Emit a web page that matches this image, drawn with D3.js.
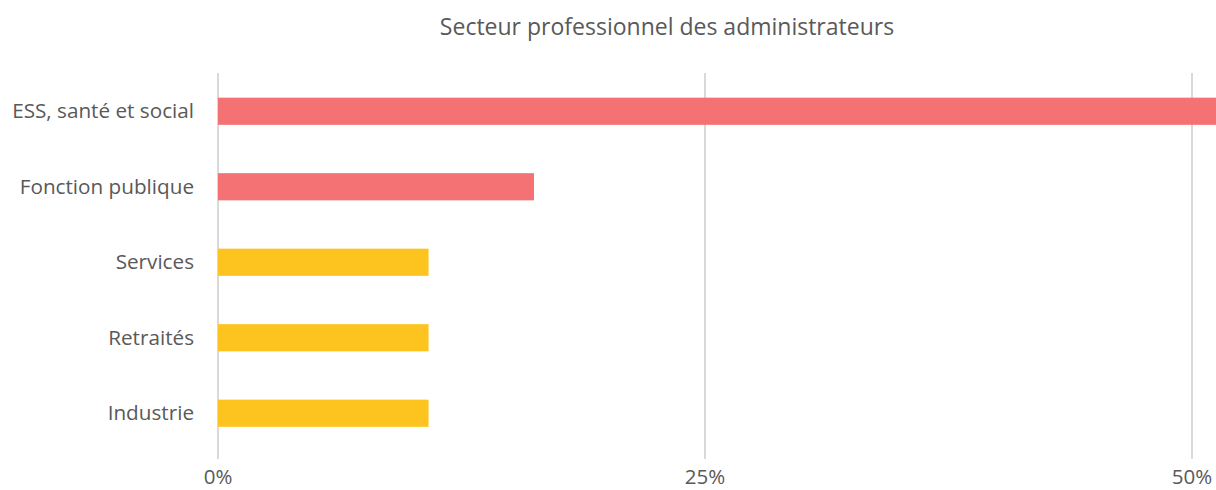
<!DOCTYPE html>
<html><head><meta charset="utf-8">
<script src="https://cdn.jsdelivr.net/npm/d3@7"></script>
<style>body{margin:0;background:#fff}svg{display:block}text{font-family:"Open Sans",sans-serif;fill:#595959}</style>
</head><body><svg id="c" width="1216" height="490"></svg>
<script>
const categories = ["ESS, santé et social","Fonction publique","Services","Retraités","Industrie"];
const values = [51.35,16.22,10.81,10.81,10.81];
const colors = ["#F47174","#F47174","#FDC41F","#FDC41F","#FDC41F"];
const tickValues = [0,25,50];
const tickLabels = ["0%","25%","50%"];
const title = "Secteur professionnel des administrateurs";

const svg = d3.select("#c");
const x = d3.scaleLinear().domain([0,50]).range([218,1192]);
const y = d3.scaleBand().domain(categories).range([73.5,451]).paddingInner(0.64).paddingOuter(0.32);

svg.append("text").attr("x",667).attr("y",35).attr("text-anchor","middle").attr("font-size",23).text(title);

svg.append("g").selectAll("line").data(tickValues).join("line")
 .attr("x1",d=>x(d)).attr("x2",d=>x(d)).attr("y1",73).attr("y2",459)
 .attr("stroke","#d9d9d9").attr("stroke-width",2);

svg.append("g").selectAll("rect").data(categories).join("rect")
 .attr("x",x(0)).attr("y",d=>y(d)).attr("height",y.bandwidth())
 .attr("width",(d,i)=>x(values[i])-x(0)).attr("fill",(d,i)=>colors[i]);

svg.append("g").selectAll("text").data(categories).join("text")
 .attr("x",194).attr("y",d=>y(d)+y.bandwidth()/2).attr("dy","0.35em")
 .attr("text-anchor","end").attr("font-size",20.7).text(d=>d);

svg.append("g").selectAll("text").data(tickValues).join("text")
 .attr("x",d=>x(d)).attr("y",484).attr("text-anchor","middle").attr("font-size",20.5)
 .text((d,i)=>tickLabels[i]);
</script></body></html>
